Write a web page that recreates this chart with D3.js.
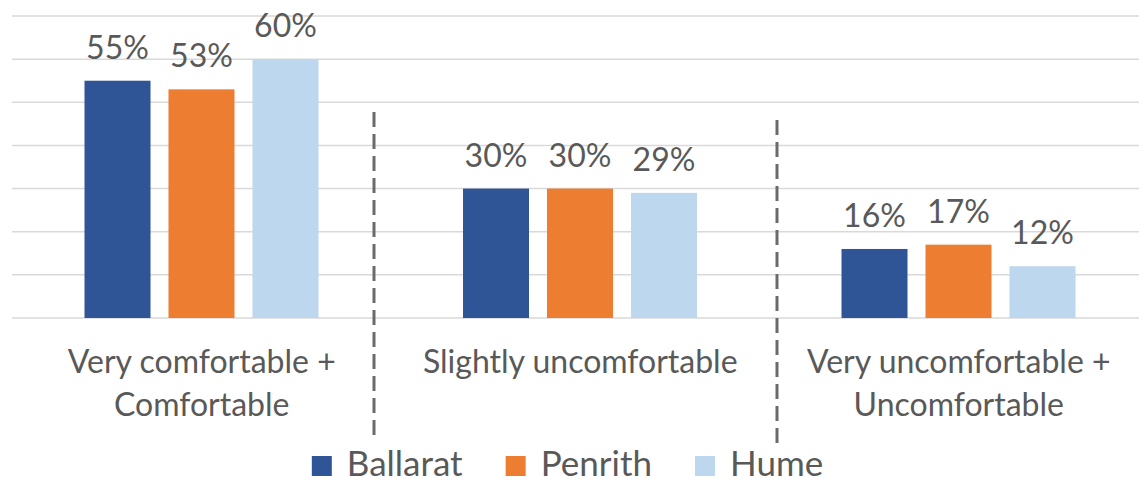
<!DOCTYPE html>
<html>
<head>
<meta charset="utf-8">
<script src="https://cdn.jsdelivr.net/npm/d3@7"></script>
<style>
  body { margin: 0; background: #fff; }
  .chart text { font-family: Lato, "Open Sans", sans-serif; fill: #595959; }
</style>
</head>
<body>
<div class="chart"></div>
<script>
// data
var categories = [
    ["Very comfortable +", "Comfortable"],
    ["Slightly uncomfortable"],
    ["Very uncomfortable +", "Uncomfortable"]
];
var seriesNames = ["Ballarat", "Penrith", "Hume"];
var ballarat = [55, 30, 16];
var penrith = [53, 30, 17];
var hume = [60, 29, 12];
var gridTicks = [0, 10, 20, 30, 40, 50, 60, 70];
var seriesColors = ["#2f5597", "#ed7d31", "#bdd7ee"];

var svgW = 1139;
var svgH = 483;

var catKeys = categories.map(function(c) { return c.join(" "); });
var seriesValues = [ballarat, penrith, hume];

var rows = catKeys.map(function(key, i) {
    return {
        key: key,
        lines: categories[i],
        vals: seriesNames.map(function(name, j) {
            return { name: name, value: seriesValues[j][i], color: seriesColors[j] };
        })
    };
});

var svg = d3.select(".chart")
    .append("svg")
    .attr("width", svgW)
    .attr("height", svgH);

var x0 = d3.scaleBand().domain(catKeys).range([12.5, 1148]);
var x1 = d3.scaleBand().domain(seriesNames).range([72, 306]).paddingInner(0.214);
var y = d3.scaleLinear().domain([0, 70]).range([318, 16]);

// gridlines
svg.append("g")
    .selectAll("line")
    .data(gridTicks)
    .enter()
    .append("line")
    .attr("x1", 12)
    .attr("x2", svgW)
    .attr("y1", function(d) { return y(d); })
    .attr("y2", function(d) { return y(d); })
    .attr("stroke", "#d9d9d9")
    .attr("stroke-width", 1.5);

var groups = svg.append("g")
    .selectAll("g")
    .data(rows)
    .enter()
    .append("g")
    .attr("transform", function(d) { return "translate(" + x0(d.key) + ",0)"; });

groups.selectAll("rect")
    .data(function(d) { return d.vals; })
    .enter()
    .append("rect")
    .attr("x", function(d) { return x1(d.name); })
    .attr("y", function(d) { return y(d.value); })
    .attr("width", x1.bandwidth())
    .attr("height", function(d) { return y(0) - y(d.value); })
    .attr("fill", function(d) { return d.color; });

groups.selectAll("text.val")
    .data(function(d) { return d.vals; })
    .enter()
    .append("text")
    .attr("class", "val")
    .attr("x", function(d) { return x1(d.name) + x1.bandwidth() / 2; })
    .attr("y", function(d) { return y(d.value) - 22; })
    .attr("text-anchor", "middle")
    .style("font-size", "32px")
    .text(function(d) { return d.value + "%"; });

// category labels
groups.each(function(d) {
    var t = d3.select(this)
        .append("text")
        .attr("text-anchor", "middle")
        .style("font-size", "32px");
    d.lines.forEach(function(line, i) {
        t.append("tspan")
            .attr("x", x0.bandwidth() / 2)
            .attr("y", y(0) + 55 + i * 43)
            .text(line);
    });
});

// dashed separators
var separators = [
    { x: 374, top: 112, bottom: 442 },
    { x: 777, top: 120, bottom: 444 }
];
svg.append("g")
    .selectAll("line")
    .data(separators)
    .enter()
    .append("line")
    .attr("x1", function(d) { return d.x; })
    .attr("x2", function(d) { return d.x; })
    .attr("y1", function(d) { return d.top; })
    .attr("y2", function(d) { return d.bottom; })
    .attr("stroke", "#6b6b6b")
    .attr("stroke-width", 3)
    .attr("stroke-dasharray", "15,7");

// legend
var legend = svg.append("g");
var items = legend.selectAll("g")
    .data(seriesNames)
    .enter()
    .append("g");

items.append("rect")
    .attr("width", 20)
    .attr("height", 20)
    .attr("y", 456)
    .attr("fill", function(d, i) { return seriesColors[i]; });

items.append("text")
    .attr("x", 35)
    .attr("y", 476)
    .style("font-size", "35px")
    .text(function(d) { return d; });

var lx = 0;
var offsets = [];
items.each(function() {
    offsets.push(lx);
    lx += 35 + d3.select(this).select("text").node().getComputedTextLength() + 43;
});
var legendW = lx - 43;
var legendStart = 567.5 - legendW / 2;
items.attr("transform", function(d, i) { return "translate(" + (legendStart + offsets[i]) + ",0)"; });
</script>
</body>
</html>
